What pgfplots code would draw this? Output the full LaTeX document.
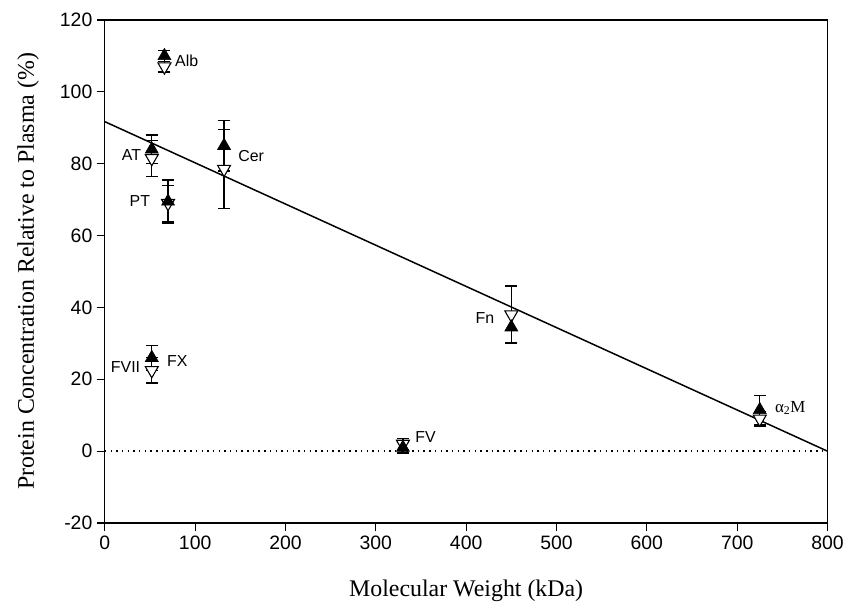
\documentclass[border=0pt]{standalone}
\usepackage{pgfplots}
\pgfplotsset{compat=1.18}
\usepackage{pgfplotstable}
\usepackage{fontspec}
\setmainfont{Liberation Serif}
\newfontfamily\sans{Liberation Sans}

\pgfplotstableread{
x y e
66 110 1.5
52 84 4
132 85 7
70 69.5 6
52 26 3.5
330 1 1.5
450 34.5 4.3
725 11.5 4
}\filled

\pgfplotstableread{
x y e
66 107 1.5
52 81.5 5
132 78.5 11
70 69 5
52 22.5 3.5
330 2 1.5
450 38 8
725 9 2
}\open

\begin{document}
\begin{tikzpicture}
\begin{axis}[
  name=ax,
  scale only axis, width=724bp, height=504bp,
  xmin=0, xmax=800, ymin=-20, ymax=120,
  xtick={0,100,...,800}, ytick={-20,0,...,120},
  tick align=outside, major tick length=8bp,
  xtick pos=bottom, ytick pos=left,
  axis line style={line width=1.3pt},
  every tick/.style={black, line width=1.2pt},
  tick label style={font=\sans\fontsize{19.5}{19.5}\selectfont},
  /pgf/number format/assume math mode=true,
  xticklabel style={yshift=-1bp},
  yticklabel style={xshift=-1bp},
  label style={font=\fontsize{24}{24}\selectfont},
  xlabel={Molecular Weight (kDa)},
  ylabel={Protein Concentration Relative to Plasma (\%)},
  xlabel style={at={(axis description cs:0.5,-0.135)}, anchor=center},
  ylabel style={at={(axis description cs:-0.106,0.5)}, anchor=center},
  clip=false,
]
\addplot[black, line width=1.5pt] coordinates {(0,91.7) (800,0)};
\addplot[black, line width=1.5pt, dash pattern=on 1.5bp off 4.2bp] coordinates {(0,0) (800,0)};

\addplot[only marks, mark=triangle*, mark size=7.5bp,
  mark options={rotate=180, fill=white, draw=black, line width=1.1pt},
  error bars/.cd, y dir=both, y explicit,
  error bar style={line width=1.3pt, black},
  error mark options={rotate=90, mark size=6bp, line width=1.3pt, black}]
  table[x=x, y=y, y error=e] {\open};

\addplot[only marks, mark=triangle*, mark size=7.5bp,
  mark options={fill=black, draw=black, line width=0.6pt},
  error bars/.cd, y dir=both, y explicit,
  error bar style={line width=1.3pt, black},
  error mark options={rotate=90, mark size=6bp, line width=1.3pt, black}]
  table[x=x, y=y, y error=e] {\filled};

\node[font=\sans\fontsize{16}{16}\selectfont, anchor=west] at (axis cs:74,108.5) {Alb};
\node[font=\sans\fontsize{16}{16}\selectfont, anchor=east] at (axis cs:44,82.5) {AT};
\node[font=\sans\fontsize{16}{16}\selectfont, anchor=west] at (axis cs:144,82) {Cer};
\node[font=\sans\fontsize{16}{16}\selectfont, anchor=east] at (axis cs:54,69.5) {PT};
\node[font=\sans\fontsize{16}{16}\selectfont, anchor=east] at (axis cs:43,23.3) {FVII};
\node[font=\sans\fontsize{16}{16}\selectfont, anchor=west] at (axis cs:65,25) {FX};
\node[font=\sans\fontsize{16}{16}\selectfont, anchor=east] at (axis cs:435,37) {Fn};
\node[font=\sans\fontsize{16}{16}\selectfont, anchor=west] at (axis cs:340,4) {FV};
\node[font=\fontsize{17}{17}\selectfont, anchor=west] at (axis cs:738,12) {α\textsubscript{2}M};
\end{axis}
\path ([shift={(-105bp,-83bp)}]ax.south west) rectangle ([shift={(18bp,20bp)}]ax.north east);
\end{tikzpicture}
\end{document}
